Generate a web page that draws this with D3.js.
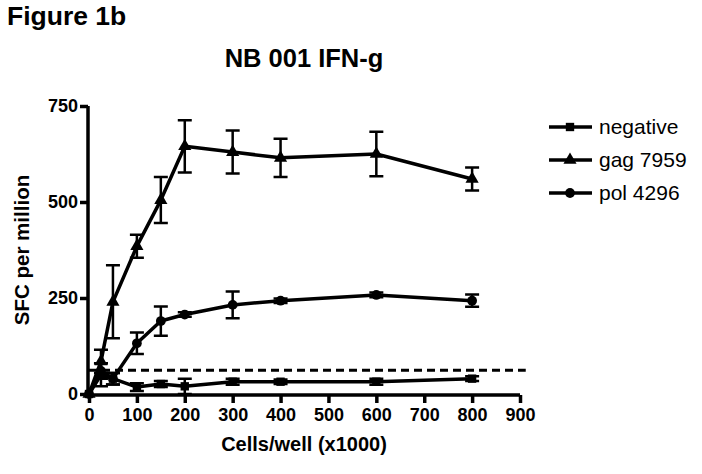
<!DOCTYPE html>
<html>
<head>
<meta charset="utf-8">
<script src="https://cdn.jsdelivr.net/npm/d3@7"></script>
<style>
  html, body { margin: 0; padding: 0; background: #fff; }
  svg { display: block; }
  text { font-family: "Liberation Sans", Arial, sans-serif; fill: #000; }
</style>
</head>
<body>
<svg id="chart" width="702" height="474"></svg>
<script>
// ---- data ----
const cells = [0, 25, 50, 100, 150, 200, 300, 400, 600, 800];
const negative = [0, 50, 40, 18, 26, 20, 32, 32, 32, 40];
const negativeErr = [0, 30, 15, 10, 8, 20, 8, 6, 8, 6];
const gag = [0, 85, 240, 385, 505, 645, 630, 615, 625, 560];
const gagErr = [0, 30, 95, 30, 60, 68, 56, 50, 58, 30];
const pol = [0, 60, 40, 132, 190, 207, 232, 243, 258, 243];
const polErr = [0, 20, 15, 28, 38, 6, 35, 6, 6, 16];
const seriesNames = ["negative", "gag 7959", "pol 4296"];
const xTicks = [0, 100, 200, 300, 400, 500, 600, 700, 800, 900];
const yTicks = [0, 250, 500, 750];
const cutoff = 62;

const svg = d3.select("#chart");
const x = d3.scaleLinear().domain([0, 900]).range([89, 520]);
const y = d3.scaleLinear().domain([0, 750]).range([394, 106]);

// Titles
svg.append("text").attr("x", 7).attr("y", 25)
  .style("font-size", "26.5px").style("font-weight", "bold").text("Figure 1b");
svg.append("text").attr("x", 304).attr("y", 67).attr("text-anchor", "middle")
  .style("font-size", "25.5px").style("font-weight", "bold").text("NB 001 IFN-g");

// Axes
const xAxis = svg.append("g").attr("transform", "translate(0,395)")
  .call(d3.axisBottom(x).tickValues(xTicks).tickSize(8).tickPadding(5).tickSizeOuter(0));
const yAxis = svg.append("g").attr("transform", "translate(88,0)")
  .call(d3.axisLeft(y).tickValues(yTicks).tickSize(8).tickPadding(2).tickSizeOuter(0));
[xAxis, yAxis].forEach(a => {
  a.select(".domain").attr("stroke", "#000").attr("stroke-width", 3.5);
  a.selectAll(".tick line").attr("stroke", "#000").attr("stroke-width", 3.5);
  a.selectAll(".tick text").style("font-size", "18px").style("font-weight", "bold")
    .style("font-family", "'Liberation Sans', Arial, sans-serif").attr("fill", "#000");
});
xAxis.select(".domain").attr("d", `M${x(0) - 2},0H${x(900)}`);
yAxis.select(".domain").attr("d", `M0,${y(750)}V${395}`);

svg.append("text").attr("x", 304).attr("y", 451).attr("text-anchor", "middle")
  .style("font-size", "20px").style("font-weight", "bold").text("Cells/well (x1000)");
svg.append("text").attr("transform", "translate(29,250) rotate(-90)").attr("text-anchor", "middle")
  .style("font-size", "20.5px").style("font-weight", "bold").text("SFC per million");

// dashed cutoff line
svg.append("line").attr("x1", x(0)).attr("x2", x(912))
  .attr("y1", y(cutoff)).attr("y2", y(cutoff))
  .attr("stroke", "#000").attr("stroke-width", 3).attr("stroke-dasharray", "8,5");

const series = [
  { name: seriesNames[0], vals: negative, err: negativeErr, sym: d3.symbolSquare, size: 70 },
  { name: seriesNames[1], vals: gag, err: gagErr, sym: d3.symbolTriangle, size: 75 },
  { name: seriesNames[2], vals: pol, err: polErr, sym: d3.symbolCircle, size: 75 }
];

const line = d3.line().x(d => x(d[0])).y(d => y(d[1]));
const capW = 7;

series.forEach(s => {
  const g = svg.append("g");
  const pts = cells.map((c, i) => [c, s.vals[i], s.err[i]]);
  pts.filter(p => p[2] > 0).forEach(p => {
    const cx = x(p[0]), y1 = y(p[1] + p[2]), y2 = y(Math.max(0, p[1] - p[2]));
    g.append("path")
      .attr("d", `M${cx},${y1}V${y2}M${cx - capW},${y1}H${cx + capW}M${cx - capW},${y2}H${cx + capW}`)
      .attr("stroke", "#000").attr("stroke-width", 2.5).attr("fill", "none");
  });
  g.append("path").datum(pts).attr("d", line)
    .attr("fill", "none").attr("stroke", "#000").attr("stroke-width", 3.5)
    .attr("stroke-linejoin", "round");
  g.selectAll("path.m").data(pts).enter().append("path").attr("class", "m")
    .attr("transform", d => `translate(${x(d[0])},${y(d[1])})`)
    .attr("d", d3.symbol().type(s.sym).size(s.size)).attr("fill", "#000");
});

// legend
const legend = svg.append("g");
series.forEach((s, i) => {
  const ly = 127 + i * 33;
  legend.append("line").attr("x1", 549).attr("x2", 592).attr("y1", ly).attr("y2", ly)
    .attr("stroke", "#000").attr("stroke-width", 3.5);
  legend.append("path").attr("transform", `translate(570,${ly})`)
    .attr("d", d3.symbol().type(s.sym).size(s.size)).attr("fill", "#000");
  legend.append("text").attr("x", 599).attr("y", ly + 7)
    .style("font-size", "21px").text(s.name);
});
</script>
</body>
</html>
